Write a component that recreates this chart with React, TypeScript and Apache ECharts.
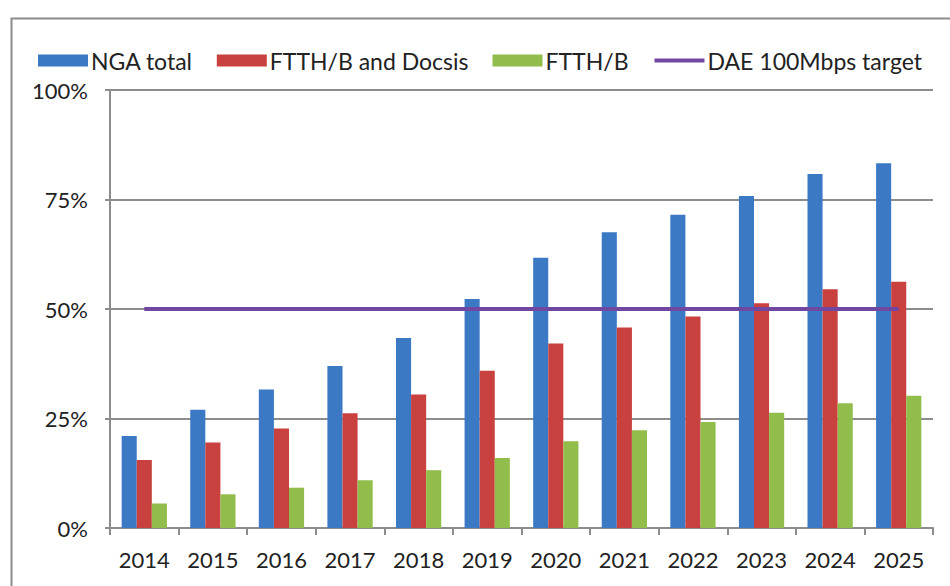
import React, { useEffect, useRef } from "react";
import * as echarts from "echarts";

const years = ["2014", "2015", "2016", "2017", "2018", "2019", "2020", "2021", "2022", "2023", "2024", "2025"];
const ngaTotal = [21, 27, 31.6, 37, 43.4, 52.3, 61.7, 67.5, 71.5, 75.8, 80.8, 83.3];
const ftthDocsis = [15.5, 19.5, 22.7, 26.2, 30.5, 35.9, 42.1, 45.8, 48.3, 51.3, 54.5, 56.2];
const ftthB = [5.6, 7.7, 9.2, 10.9, 13.2, 16.0, 19.8, 22.3, 24.2, 26.3, 28.5, 30.2];
const daeTarget = [50, 50, 50, 50, 50, 50, 50, 50, 50, 50, 50, 50];
const yTicks = [0, 25, 50, 75, 100];

const FONT = "Lato";

export default function App() {
  const ref = useRef<HTMLDivElement>(null);
  useEffect(() => {
    if (!ref.current) return;
    const chart = echarts.init(ref.current, undefined, { renderer: "svg" });
    chart.setOption({
      animation: false,
      backgroundColor: "#ffffff",
      textStyle: { fontFamily: FONT },
      graphic: [
        {
          type: "rect",
          left: 9,
          top: 16,
          shape: { width: 1000, height: 700 },
          style: { fill: "none", stroke: "#8c8c8c", lineWidth: 2 },
          silent: true,
        },
      ],
      legend: {
        left: 33,
        top: 44,
        itemWidth: 50,
        itemHeight: 12,
        itemGap: 24,
        textStyle: { fontFamily: FONT, fontSize: 23, color: "#222222", padding: [0, 0, 0, -2] },
        data: [
          { name: "NGA total", icon: "rect" },
          { name: "FTTH/B and Docsis", icon: "rect" },
          { name: "FTTH/B", icon: "rect" },
          {
            name: "DAE 100Mbps target",
            itemStyle: { opacity: 0 },
            lineStyle: { width: 4, color: "#7048A2" },
          },
        ],
      },
      grid: { left: 110, right: 17, top: 90, bottom: 58, containLabel: false },
      xAxis: {
        type: "category",
        data: years,
        axisLine: { lineStyle: { color: "#8c8c8c", width: 2 } },
        axisTick: { show: true, length: 7, lineStyle: { color: "#8c8c8c", width: 2 } },
        axisLabel: { fontFamily: FONT, fontSize: 22, color: "#222222", margin: 20 },
      },
      yAxis: {
        type: "value",
        min: yTicks[0],
        max: yTicks[yTicks.length - 1],
        interval: 25,
        axisLine: { show: true, lineStyle: { color: "#8c8c8c", width: 2 } },
        axisTick: { show: true, length: 5, lineStyle: { color: "#8c8c8c", width: 2 } },
        splitLine: { show: true, lineStyle: { color: "#8c8c8c", width: 2 } },
        axisLabel: {
          fontFamily: FONT,
          fontSize: 22,
          color: "#222222",
          margin: 22,
          formatter: (v: number) => `${v}%`,
        },
      },
      series: [
        {
          name: "NGA total",
          type: "bar",
          data: ngaTotal,
          barGap: "0%",
          barCategoryGap: "34%",
          itemStyle: { color: "#3C79C4" },
        },
        {
          name: "FTTH/B and Docsis",
          type: "bar",
          data: ftthDocsis,
          barGap: "0%",
          barCategoryGap: "34%",
          itemStyle: { color: "#C8413E" },
        },
        {
          name: "FTTH/B",
          type: "bar",
          data: ftthB,
          barGap: "0%",
          barCategoryGap: "34%",
          itemStyle: { color: "#91BE4A" },
        },
        {
          name: "DAE 100Mbps target",
          type: "line",
          data: daeTarget,
          symbol: "none",
          lineStyle: { color: "#7048A2", width: 4 },
          itemStyle: { color: "#7048A2" },
          z: 5,
        },
      ],
    });
    return () => chart.dispose();
  }, []);
  return (
    <div
      ref={ref}
      style={{ position: "fixed", left: 0, top: 0, width: 950, height: 586 }}
    />
  );
}
